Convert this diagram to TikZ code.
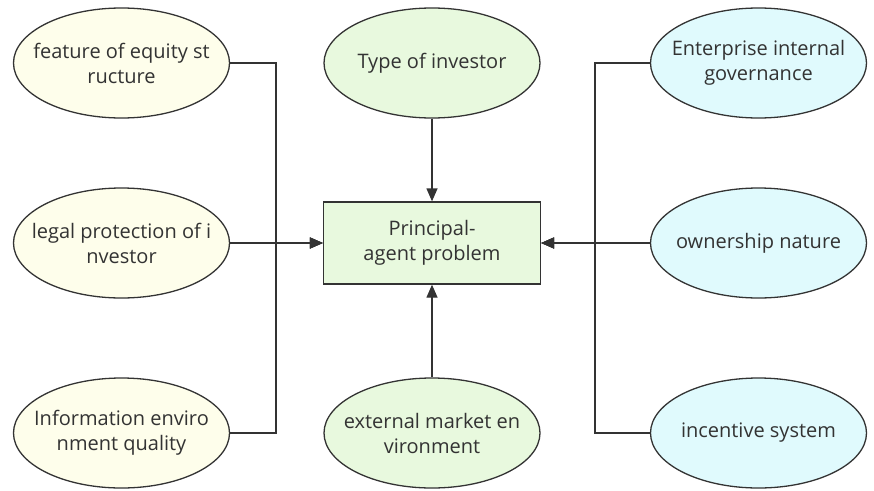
\documentclass[tikz,border=0pt]{standalone}
\usepackage{fontspec}
\setmainfont{Open Sans}
\usetikzlibrary{arrows.meta,shapes.geometric}
\definecolor{inkgray}{HTML}{333333}
\definecolor{creamfill}{HTML}{FEFEEB}
\definecolor{mintfill}{HTML}{E8F9DE}
\definecolor{icefill}{HTML}{E0FAFD}
\begin{document}
\begin{tikzpicture}[x=1pt,y=-1pt,
  % fixed-size ellipses: negative inner sep keeps the minimum size in force
  bubble/.style={ellipse, draw=inkgray, line width=1.3pt,
    minimum width=216pt, minimum height=110pt,
    inner xsep=-30pt, inner ysep=-20pt,
    text=inkgray, font=\fontsize{20}{25}\selectfont, align=center},
  factorL/.style={bubble, fill=creamfill},
  factorM/.style={bubble, fill=mintfill},
  factorR/.style={bubble, fill=icefill},
  core/.style={rectangle, draw=inkgray, line width=1.3pt, fill=mintfill,
    minimum width=217pt, minimum height=82pt, inner sep=0pt,
    text=inkgray, font=\fontsize{20}{25}\selectfont, align=center},
  link/.style={draw=inkgray, line width=1.3pt},
  feed/.style={link, -{Triangle[length=13pt,width=11pt]}}]
\useasboundingbox (0,0) rectangle (874,490);

% left column
\node[factorL] (fes) at (121.5,63)  {feature of equity st\\ructure};
\node[factorL] (lpi) at (121.5,243) {legal protection of i\\nvestor};
\node[factorL] (iem) at (121.5,433) {Information enviro\\nment quality};

% middle column
\node[factorM] (toi) at (432,63)  {Type of investor};
\node[core]    (pap) at (432,243) {Principal-\\agent problem};
\node[factorM] (emv) at (432,433) {external market en\\vironment};

% right column
\node[factorR] (eig) at (758.5,63)  {Enterprise internal\\governance};
\node[factorR] (own) at (758.5,243) {ownership nature};
\node[factorR] (inc) at (758.5,433) {incentive system};

% collecting buses
\coordinate (lbus) at (276,243);
\coordinate (rbus) at (595,243);

\draw[feed] (fes.east) -| (lbus) -- (pap.west);
\draw[feed] (iem.east) -| (lbus) -- (pap.west);
\draw[feed] (lpi.east) -- (pap.west);

\draw[feed] (eig.west) -| (rbus) -- (pap.east);
\draw[feed] (inc.west) -| (rbus) -- (pap.east);
\draw[feed] (own.west) -- (pap.east);

\draw[feed] (toi.south) -- (pap.north);
\draw[feed] (emv.north) -- (pap.south);
\end{tikzpicture}
\end{document}
